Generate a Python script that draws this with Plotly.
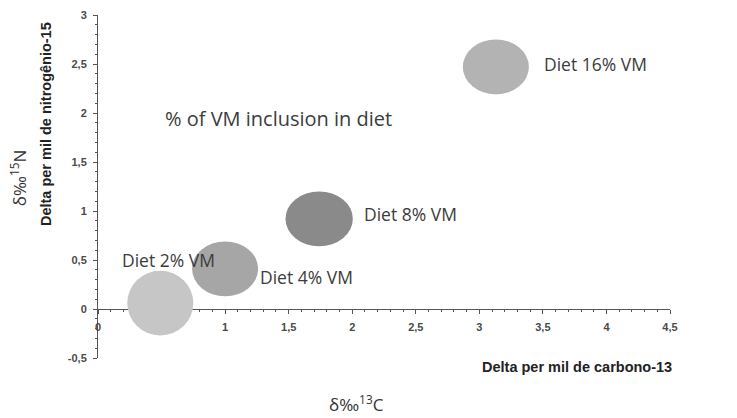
import plotly.graph_objects as go

# Data
diets = ["Diet 2% VM", "Diet 4% VM", "Diet 8% VM", "Diet 16% VM"]
delta13C = [0.49, 1.0, 1.74, 3.13]
delta15N = [0.06, 0.41, 0.92, 2.47]
x_ticks = [0, 0.5, 1, 1.5, 2, 2.5, 3, 3.5, 4, 4.5]
x_ticktext = ["0", "0,5", "1", "1,5", "2", "2,5", "3", "3,5", "4", "4,5"]
y_ticks = [-0.5, 0, 0.5, 1, 1.5, 2, 2.5, 3]
y_ticktext = ["-0,5", "0", "0,5", "1", "1,5", "2", "2,5", "3"]

# Styles
colors = ["#c6c6c6", "#a6a6a6", "#8a8a8a", "#b3b3b3"]
ell_w = [0.52, 0.52, 0.53, 0.52]
ell_h = [0.66, 0.56, 0.56, 0.56]
label_dx = [-0.317, 0.26, 0.34, 0.36]
label_dy = [0.435, -0.08, 0.05, 0.03]

fig = go.Figure()
fig.add_trace(go.Scatter(x=delta13C, y=delta15N, mode="markers",
                         marker=dict(size=1, color="rgba(0,0,0,0)"),
                         hoverinfo="skip", showlegend=False))

for i, d in enumerate(diets):
    fig.add_shape(type="circle", xref="x", yref="y",
                  x0=delta13C[i] - ell_w[i] / 2, x1=delta13C[i] + ell_w[i] / 2,
                  y0=delta15N[i] - ell_h[i] / 2, y1=delta15N[i] + ell_h[i] / 2,
                  fillcolor=colors[i], line=dict(width=0), layer="above")
    fig.add_annotation(x=delta13C[i] + label_dx[i], y=delta15N[i] + label_dy[i], text=d,
                       showarrow=False, xanchor="left", yanchor="middle",
                       font=dict(family="Open Sans", size=17.5, color="#3c3c3c"))

fig.add_annotation(x=0.51, y=1.94, xref="x", yref="y", text="% of VM inclusion in diet",
                   showarrow=False, xanchor="left", yanchor="middle",
                   font=dict(family="Open Sans", size=20, color="#3c3c3c"))

tickfont = dict(family="Liberation Sans", size=11, color="#4a4a4a")
fig.update_layout(
    width=737, height=418,
    margin=dict(l=98, r=67, t=9, b=60),
    paper_bgcolor="white", plot_bgcolor="white",
    showlegend=False,
    xaxis=dict(range=[0, 4.5], tickvals=x_ticks, ticktext=["<b>%s</b>" % t for t in x_ticktext],
               ticks="outside", ticklen=4, ticklabelstandoff=4,
               tickcolor="#555", showline=True, linecolor="#555", linewidth=1,
               showgrid=False, zeroline=False, anchor="free",
               position=0.5 / 3.5, tickfont=tickfont,
               minor=dict(dtick=0.1, ticks="outside", ticklen=2, tickcolor="#555", showgrid=False)),
    yaxis=dict(range=[-0.5, 3], tickvals=y_ticks, ticktext=["<b>%s</b>" % t for t in y_ticktext],
               ticks="outside", ticklen=4, ticklabelstandoff=4,
               tickcolor="#555", showline=True, linecolor="#555", linewidth=1,
               showgrid=False, zeroline=False, tickfont=tickfont,
               minor=dict(dtick=0.1, ticks="outside", ticklen=2, tickcolor="#555", showgrid=False)),
)

pw, ph = 737 - 98 - 67, 418 - 9 - 60


def px2paper(px, py):
    return (px - 98) / pw, (418 - 60 - py) / ph


titles = [
    (577, 367, "<b>Delta per mil de carbono-13</b>", 0, "Liberation Sans", 14.5, "#222"),
    (356, 404, "δ‰<sup>13</sup>C", 0, "Open Sans", 17, "#333"),
    (46, 120, "<b>Delta per mil de nitrogênio-15</b>", -90, "Liberation Sans", 14.5, "#222"),
    (18, 175, "δ‰<sup>15</sup>N", -90, "Open Sans", 17, "#333"),
]
for px, py, txt, ang, fam, sz, col in titles:
    ax, ay = px2paper(px, py)
    fig.add_annotation(x=ax, y=ay, xref="paper", yref="paper", text=txt, textangle=ang,
                       showarrow=False, xanchor="center", yanchor="middle",
                       font=dict(family=fam, size=sz, color=col))

fig.write_html("out.html")
